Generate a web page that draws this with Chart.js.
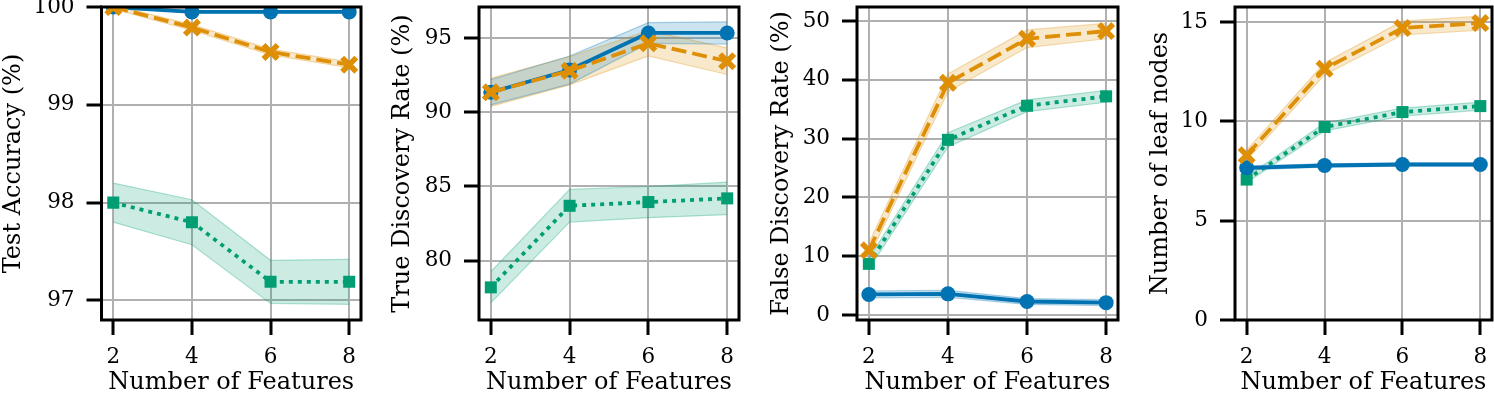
<!DOCTYPE html>
<html>
<head>
<meta charset="utf-8">
<script src="https://cdn.jsdelivr.net/npm/chart.js@4.4.0/dist/chart.umd.min.js"></script>
<style>
  html, body { margin: 0; padding: 0; background: #fff; overflow: hidden; }
  #wrap { position: relative; width: 1494px; height: 397px; }
  #wrap canvas { position: absolute; top: 0; }
</style>
</head>
<body>
<div id="wrap">
  <canvas id="acc"></canvas>
  <canvas id="tdr"></canvas>
  <canvas id="fdr"></canvas>
  <canvas id="leaf"></canvas>
</div>
<script>
// x values / ticks
const features = [2, 4, 6, 8];
const featureTicks = [2, 4, 6, 8];

// Test accuracy (%)  -- mean and half band width
const accBlue = [100, 99.95, 99.95, 99.95];
const accBlueErr = [0.01, 0.01, 0.01, 0.01];
const accOrange = [100, 99.79, 99.54, 99.41];
const accOrangeErr = [0.02, 0.03, 0.03, 0.03];
const accGreen = [98.0, 97.8, 97.19, 97.19];
const accGreenErr = [0.2, 0.23, 0.22, 0.23];
const accTicks = [97, 98, 99, 100];

// True discovery rate (%)
const tdrBlue = [91.35, 92.85, 95.35, 95.35];
const tdrBlueErr = [0.85, 0.95, 0.7, 0.75];
const tdrOrange = [91.35, 92.8, 94.65, 93.45];
const tdrOrangeErr = [0.95, 0.95, 0.85, 0.9];
const tdrGreen = [78.2, 83.7, 83.95, 84.2];
const tdrGreenErr = [1.05, 1.1, 1.05, 1.1];
const tdrTicks = [80, 85, 90, 95];

// False discovery rate (%)
const fdrBlue = [3.5, 3.6, 2.3, 2.1];
const fdrBlueErr = [0.6, 0.6, 0.5, 0.5];
const fdrOrange = [11.0, 39.5, 47.0, 48.3];
const fdrOrangeErr = [1.2, 1.5, 1.5, 1.3];
const fdrGreen = [8.7, 29.8, 35.6, 37.2];
const fdrGreenErr = [0.9, 1.2, 1.0, 1.0];
const fdrTicks = [0, 10, 20, 30, 40, 50];

// Number of leaf nodes
const leafBlue = [7.66, 7.78, 7.83, 7.83];
const leafBlueErr = [0.1, 0.08, 0.08, 0.08];
const leafOrange = [8.3, 12.65, 14.7, 14.95];
const leafOrangeErr = [0.25, 0.3, 0.35, 0.35];
const leafGreen = [7.07, 9.72, 10.47, 10.77];
const leafGreenErr = [0.15, 0.2, 0.2, 0.2];
const leafTicks = [0, 5, 10, 15];

const BLUE = '#0173b2', ORANGE = '#de8f05', GREEN = '#029e73';
const rgba = (hex, a) => {
  const n = parseInt(hex.slice(1), 16);
  return `rgba(${n >> 16},${(n >> 8) & 255},${n & 255},${a})`;
};

const serif = "'DejaVu Serif', serif";
const tickFont = { family: serif, size: 21.5, lineHeight: 1 };
const titleFont = { family: serif, size: 24, lineHeight: 1 };
const gridColor = '#b0b0b0';

const boxPlugin = {
  id: 'box',
  afterDatasetsDraw(chart) {
    const { ctx, chartArea: a } = chart;
    ctx.save();
    ctx.strokeStyle = '#000';
    ctx.lineWidth = 3;
    ctx.strokeRect(a.left, a.top, a.right - a.left, a.bottom - a.top);
    ctx.restore();
  }
};

const pts = (ys, f) => features.map((x, i) => ({ x, y: f ? f(ys[i], i) : ys[i] }));

function band(mean, err, color) {
  return [
    { data: pts(mean, (v, i) => v + err[i]), borderColor: rgba(color, 0.3), borderWidth: 1.2,
      pointRadius: 0, fill: false, order: 10, clip: 1 },
    { data: pts(mean, (v, i) => v - err[i]), borderColor: rgba(color, 0.3), borderWidth: 1.2,
      pointRadius: 0, fill: '-1', backgroundColor: rgba(color, 0.2), order: 10, clip: 1 }
  ];
}

function series(s) {
  const styles = {
    blue:   { borderColor: BLUE, pointStyle: 'circle', pointRadius: 7.5, pointBackgroundColor: BLUE,
              pointBorderWidth: 0, borderDash: [], order: 2 },
    orange: { borderColor: ORANGE, pointStyle: 'crossRot', pointRadius: 10, pointBorderColor: ORANGE,
              pointBorderWidth: 5.5, borderDash: [15, 6], order: 1 },
    green:  { borderColor: GREEN, pointStyle: 'rect', pointRadius: 8.5, pointBackgroundColor: GREEN,
              pointBorderWidth: 0, borderDash: [4, 5], order: 3 }
  };
  return Object.assign({ data: pts(s.mean), borderWidth: 3.8, fill: false, clip: 1 }, styles[s.key]);
}

function makeChart(id, p) {
  const axisW = p.boxL - p.titleX + titleFont.size / 2;
  const padR = p.padR;
  const canvas = document.getElementById(id);
  canvas.width = axisW + (p.boxR - p.boxL) + padR;
  canvas.height = 397;
  canvas.style.left = (p.boxL - axisW) + 'px';

  const datasets = [];
  p.series.forEach(s => datasets.push(...band(s.mean, s.err, s.color)));
  p.series.forEach(s => datasets.push(series(s)));

  const gridCommon = { color: gridColor, lineWidth: 2, tickColor: '#000', tickWidth: 3, tickLength: 15 };

  new Chart(canvas, {
    type: 'line',
    data: { datasets },
    options: {
      responsive: false,
      animation: false,
      layout: { autoPadding: false, padding: { top: 7, right: padR, left: 0, bottom: 0 } },
      plugins: { legend: { display: false }, tooltip: { enabled: false }, filler: { drawTime: 'beforeDatasetsDraw' } },
      scales: {
        x: {
          type: 'linear', min: 1.7, max: 8.3,
          afterBuildTicks: s => { s.ticks = featureTicks.map(v => ({ value: v })); },
          afterFit: s => { s.height = 397 - 320; s.paddingLeft = 0; s.paddingRight = 0; },
          grid: gridCommon,
          border: { display: false },
          ticks: { font: tickFont, color: '#000', padding: 12, maxRotation: 0, autoSkip: false },
          title: { display: true, text: 'Number of Features', font: titleFont, color: '#000',
                   padding: { top: 0, bottom: 2 } }
        },
        y: {
          type: 'linear', min: p.yMin, max: p.yMax,
          afterBuildTicks: s => { s.ticks = p.ticks.map(v => ({ value: v })); },
          afterFit: s => { s.width = axisW; s.paddingTop = 0; s.paddingBottom = 0; },
          grid: gridCommon,
          border: { display: false },
          ticks: { font: tickFont, color: '#000', padding: 12, autoSkip: false },
          title: { display: true, text: p.title, font: titleFont, color: '#000',
                   padding: { top: 0, bottom: 0 } }
        }
      }
    },
    plugins: [boxPlugin]
  });
}

makeChart('acc', {
  boxL: 101, boxR: 361, titleX: 13.5, padR: 4, yMin: 96.8, yMax: 100, ticks: accTicks,
  title: 'Test Accuracy (%)',
  series: [
    { key: 'green', color: GREEN, mean: accGreen, err: accGreenErr },
    { key: 'blue', color: BLUE, mean: accBlue, err: accBlueErr },
    { key: 'orange', color: ORANGE, mean: accOrange, err: accOrangeErr }
  ]
});
makeChart('tdr', {
  boxL: 479, boxR: 739, titleX: 403, padR: 4, yMin: 76.0, yMax: 97.1, ticks: tdrTicks,
  title: 'True Discovery Rate (%)',
  series: [
    { key: 'green', color: GREEN, mean: tdrGreen, err: tdrGreenErr },
    { key: 'blue', color: BLUE, mean: tdrBlue, err: tdrBlueErr },
    { key: 'orange', color: ORANGE, mean: tdrOrange, err: tdrOrangeErr }
  ]
});
makeChart('fdr', {
  boxL: 857, boxR: 1118, titleX: 782, padR: 4, yMin: -0.85, yMax: 52.4, ticks: fdrTicks,
  title: 'False Discovery Rate (%)',
  series: [
    { key: 'green', color: GREEN, mean: fdrGreen, err: fdrGreenErr },
    { key: 'blue', color: BLUE, mean: fdrBlue, err: fdrBlueErr },
    { key: 'orange', color: ORANGE, mean: fdrOrange, err: fdrOrangeErr }
  ]
});
makeChart('leaf', {
  boxL: 1235, boxR: 1492, titleX: 1161, padR: 2, yMin: 0, yMax: 15.76, ticks: leafTicks,
  title: 'Number of leaf nodes',
  series: [
    { key: 'green', color: GREEN, mean: leafGreen, err: leafGreenErr },
    { key: 'blue', color: BLUE, mean: leafBlue, err: leafBlueErr },
    { key: 'orange', color: ORANGE, mean: leafOrange, err: leafOrangeErr }
  ]
});
</script>
</body>
</html>
